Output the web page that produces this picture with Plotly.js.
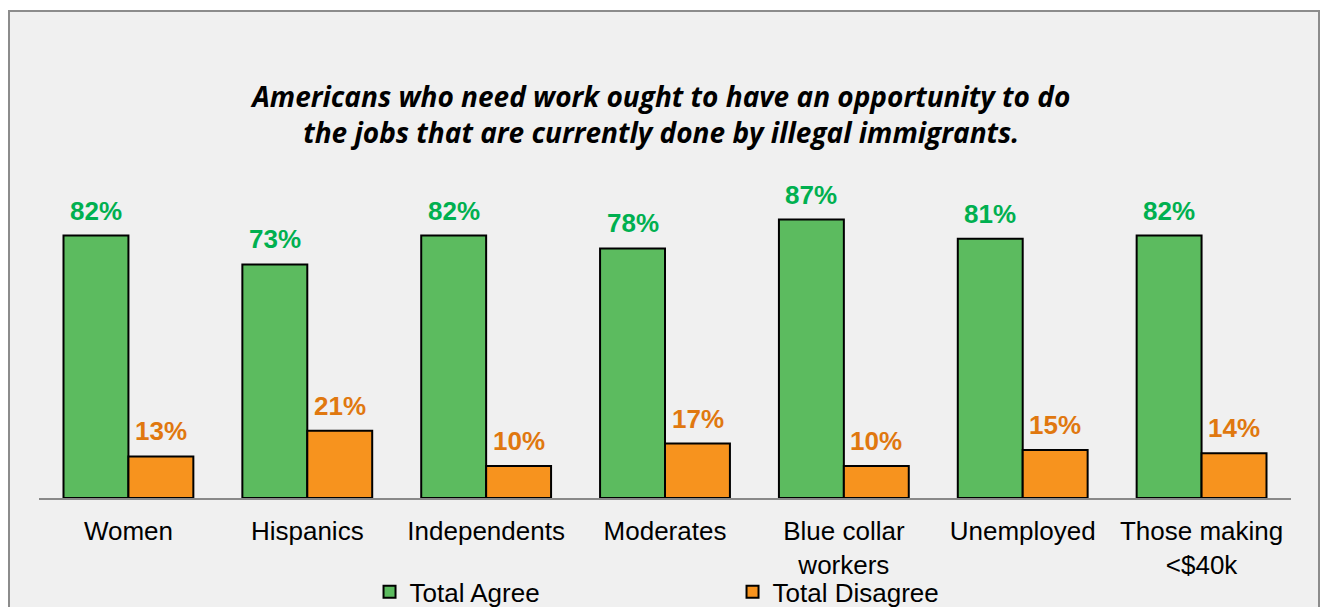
<!DOCTYPE html>
<html><head><meta charset="utf-8">
<script src="https://cdn.plot.ly/plotly-3.0.1.min.js"></script>
<style>
html,body{margin:0;padding:0;background:#fff;}
#frame{position:absolute;left:8px;top:10px;width:1312px;height:620px;background:#F0F0F0;border:2px solid #8C8C8C;box-sizing:border-box;}
#chart{position:absolute;left:0;top:0;width:1322px;height:607px;}
</style></head>
<body>
<div id="frame"></div>
<div id="chart"></div>
<script>
const categories = ["Women","Hispanics","Independents","Moderates","Blue collar<br>workers","Unemployed","Those making<br><$40k"];
const agree = [82,73,82,78,87,81,82];
const disagree = [13,21,10,17,10,15,14];
const seriesNames = ["Total Agree","Total Disagree"];
const titleText = "Americans who need work ought to have an opportunity to do<br>the jobs that are currently done by illegal immigrants.";

const green = "#5CBB5F", orange = "#F7931E";
const greenTxt = "#00B050", orangeTxt = "#E0780F";

const traces = [
  {type:"bar", name:seriesNames[0], x:categories, y:agree, marker:{color:green, line:{color:"#000", width:2}}, hoverinfo:"skip"},
  {type:"bar", name:seriesNames[1], x:categories, y:disagree, marker:{color:orange, line:{color:"#000", width:2}}, hoverinfo:"skip"}
];

const lblFont = c => ({family:"Liberation Sans, Arial", size:26, color:c, weight:"bold"});
const annotations = [];
agree.forEach((v,i)=>annotations.push({x:categories[i], y:v, xref:"x", yref:"y", text:v+"%", showarrow:false, xanchor:"center", yanchor:"bottom", xshift:-32.5, yshift:8, font:lblFont(greenTxt)}));
disagree.forEach((v,i)=>annotations.push({x:categories[i], y:v, xref:"x", yref:"y", text:v+"%", showarrow:false, xanchor:"center", yanchor:"bottom", xshift:32.5, yshift:8, font:lblFont(orangeTxt)}));

const layout = {
  width:1322, height:607,
  paper_bgcolor:"rgba(0,0,0,0)", plot_bgcolor:"rgba(0,0,0,0)",
  margin:{l:38.5, r:30.5, t:178, b:109},
  barmode:"group", bargap:0.274, bargroupgap:0,
  title:{text:titleText, x:0.497, xref:"paper", y:0.824, yref:"container", yanchor:"middle",
    font:{family:"Open Sans, Lato, sans-serif", size:28, color:"#000", weight:"bold", style:"italic"}},
  xaxis:{showline:true, linecolor:"#898989", linewidth:2, ticks:"outside", ticklen:9, tickcolor:"rgba(0,0,0,0)",
    tickfont:{family:"Liberation Sans, Arial", size:26, color:"#000"}, fixedrange:true},
  yaxis:{range:[0,100], visible:false, showgrid:false, zeroline:false, fixedrange:true},
  showlegend:true,
  legend:{orientation:"h", x:0.264, xanchor:"left", xref:"paper", y:0.025, yref:"container", yanchor:"middle",
    entrywidth:318, entrywidthmode:"pixels",
    font:{family:"Liberation Sans, Arial", size:26, color:"#000"}, bgcolor:"rgba(0,0,0,0)", itemwidth:30, traceorder:"normal"},
  annotations:annotations
};
Plotly.newPlot("chart", traces, layout, {displayModeBar:false, staticPlot:true});
</script>
</body></html>
